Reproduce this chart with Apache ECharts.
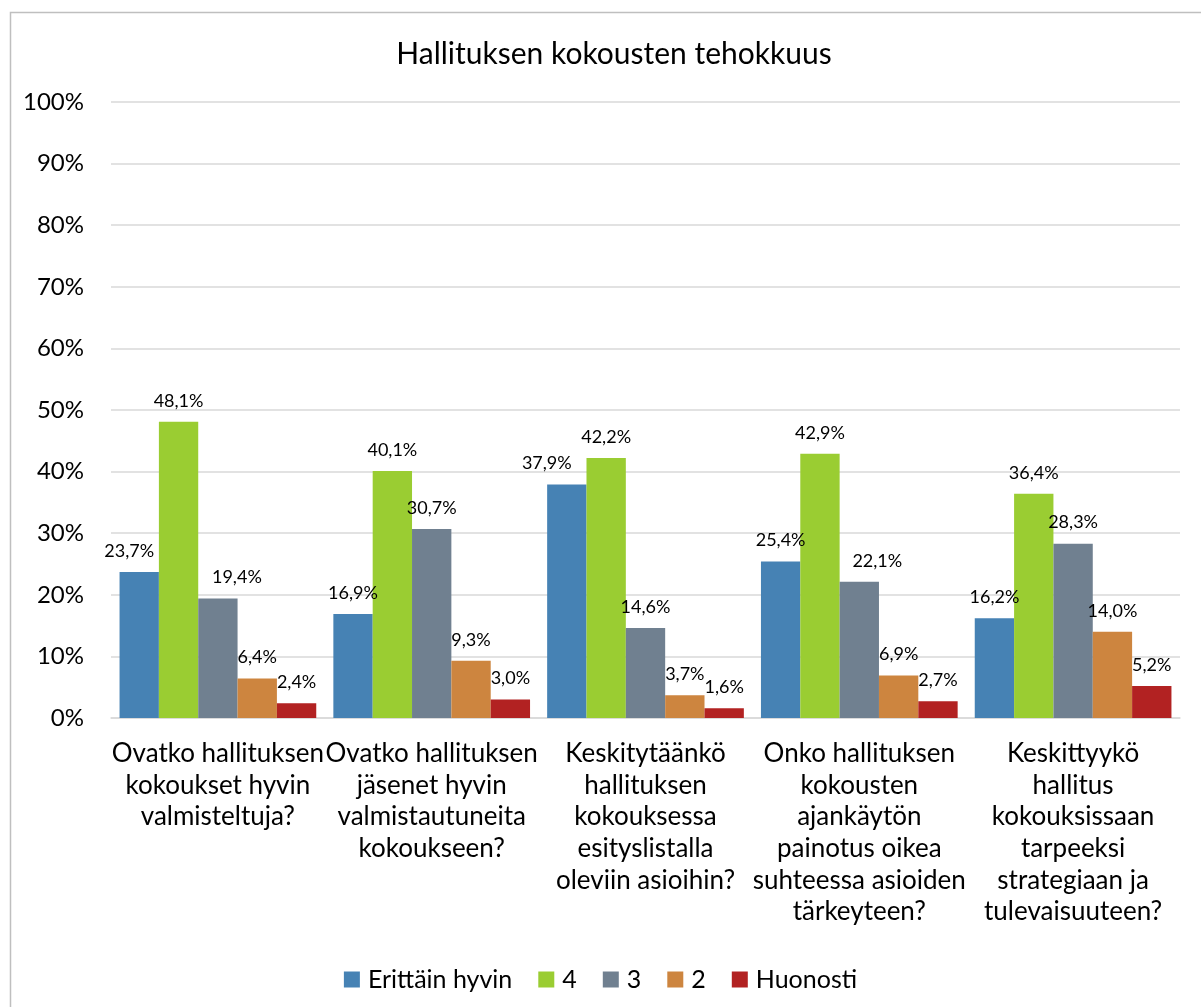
<!DOCTYPE html>
<html>
<head>
<meta charset="utf-8">
<script src="https://cdn.jsdelivr.net/npm/echarts@6/dist/echarts.min.js"></script>
<style>
  html, body { margin: 0; padding: 0; background: #fff; }
  #main { width: 1201px; height: 1007px; }
</style>
</head>
<body>
<div id="main"></div>
<script>
const categories = [
  "Ovatko hallituksen\nkokoukset hyvin\nvalmisteltuja?",
  "Ovatko hallituksen\njäsenet hyvin\nvalmistautuneita\nkokoukseen?",
  "Keskitytäänkö\nhallituksen\nkokouksessa\nesityslistalla\noleviin asioihin?",
  "Onko hallituksen\nkokousten\najankäytön\npainotus oikea\nsuhteessa asioiden\ntärkeyteen?",
  "Keskittyykö\nhallitus\nkokouksissaan\ntarpeeksi\nstrategiaan ja\ntulevaisuuteen?"
];
const seriesNames = ["Erittäin hyvin", "4", "3", "2", "Huonosti"];
const erittainHyvin = [23.7, 16.9, 37.9, 25.4, 16.2];
const nelja = [48.1, 40.1, 42.2, 42.9, 36.4];
const kolme = [19.4, 30.7, 14.6, 22.1, 28.3];
const kaksi = [6.4, 9.3, 3.7, 6.9, 14.0];
const huonosti = [2.4, 3.0, 1.6, 2.7, 5.2];
const yTicks = [0, 10, 20, 30, 40, 50, 60, 70, 80, 90, 100];

const colors = ["#4682B4", "#9ACD32", "#708090", "#CD853F", "#B22222"];
const FONT = "Lato, 'Noto Sans', sans-serif";

// small horizontal nudges for labels that were moved aside in the original
const nudge = { "0-0": -10, "2-0": 19, "0-2": -20, "2-3": 18 };

const chart = echarts.init(document.getElementById("main"));

const allValues = [erittainHyvin, nelja, kolme, kaksi, huonosti];
const series = allValues.map((vals, si) => ({
  name: seriesNames[si],
  type: "bar",
  barGap: 0,
  barCategoryGap: "8%",
  itemStyle: { color: colors[si] },
  data: vals.map((v, ci) => {
    const dx = nudge[si + "-" + ci];
    return dx ? { value: v, label: { offset: [dx, 0] } } : v;
  }),
  label: {
    show: true,
    position: "top",
    distance: 12,
    fontFamily: FONT,
    fontSize: 18,
    color: "#000",
    formatter: p => p.value.toFixed(1).replace(".", ",") + "%"
  }
}));

chart.setOption({
  animation: false,
  textStyle: { fontFamily: FONT },
  title: {
    text: "Hallituksen kokousten tehokkuus",
    left: 609,
    textAlign: "center",
    top: 34,
    textStyle: { fontFamily: FONT, fontSize: 30, fontWeight: "normal", color: "#000" }
  },
  legend: {
    top: 962,
    left: "center",
    itemWidth: 16,
    itemHeight: 16,
    itemGap: 26,
    icon: "rect",
    textStyle: { fontFamily: FONT, fontSize: 25, color: "#000", padding: [0, 0, 0, 3] },
    data: seriesNames
  },
  graphic: [{
    type: "rect",
    left: 8,
    top: 10,
    shape: { width: 1200, height: 1000 },
    style: { fill: "none", stroke: "#bfbfbf", lineWidth: 1.5 },
    silent: true
  }],
  grid: { left: 111, right: 21, top: 102, bottom: 289 },
  xAxis: {
    type: "category",
    data: categories,
    axisTick: { show: false },
    axisLine: { lineStyle: { color: "#d9d9d9", width: 1.5 } },
    axisLabel: {
      interval: 0,
      fontFamily: FONT,
      fontSize: 26,
      lineHeight: 31.6,
      margin: 20,
      color: "#000"
    }
  },
  yAxis: {
    type: "value",
    min: yTicks[0],
    max: yTicks[yTicks.length - 1],
    interval: yTicks[1] - yTicks[0],
    axisLine: { show: false },
    axisTick: { show: false },
    splitLine: { lineStyle: { color: "#d9d9d9", width: 1.5 } },
    axisLabel: {
      formatter: "{value}%",
      fontFamily: FONT,
      fontSize: 24,
      margin: 27,
      color: "#000"
    }
  },
  series: series
});
</script>
</body>
</html>
